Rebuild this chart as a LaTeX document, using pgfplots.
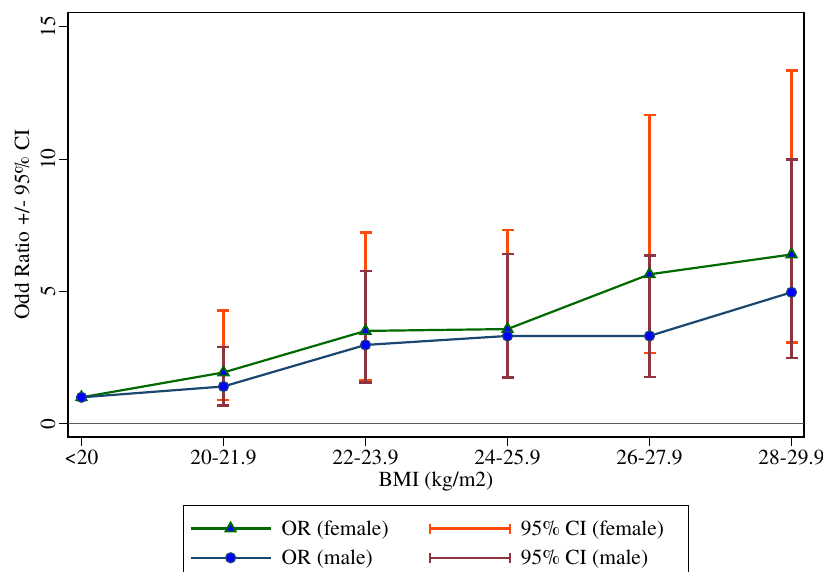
\documentclass[border=0pt]{standalone}
\usepackage{fontspec}
\setmainfont{texgyretermes}[Extension=.otf, UprightFont=*-regular, BoldFont=*-bold, ItalicFont=*-italic, BoldItalicFont=*-bolditalic]
\usepackage{pgfplots}
\pgfplotsset{compat=1.18}
\usepackage{pgfplotstable}
\definecolor{fgreen}{RGB}{0,105,0}
\definecolor{mnavy}{RGB}{26,71,111}
\definecolor{cifem}{RGB}{255,75,10}
\definecolor{cimale}{RGB}{142,52,62}
\definecolor{mblue}{RGB}{0,0,255}
\definecolor{zline}{RGB}{90,90,90}

\pgfplotstableread{
x or
0 1.00
1 1.94
2 3.51
3 3.58
4 5.65
5 6.40
}\femaleor
\pgfplotstableread{
x or
0 1.00
1 1.41
2 2.98
3 3.32
4 3.32
5 4.97
}\maleor
\pgfplotstableread{
x lo hi
1 0.91 4.28
2 1.66 7.23
3 1.75 7.33
4 2.69 11.67
5 3.07 13.35
}\femaleci
\pgfplotstableread{
x lo hi
1 0.69 2.90
2 1.56 5.78
3 1.75 6.41
4 1.76 6.36
5 2.49 9.99
}\maleci

\pgfplotsset{
  cibar/.style={only marks, mark=text, text mark={}, color=#1, line width=2.2bp,
    error bars/y dir=both, error bars/y explicit,
    error bars/error bar style={color=#1, line width=2.2bp},
    error bars/error mark=|,
    error bars/error mark options={color=#1, line width=2.2bp, mark size=6bp}},
}

\begin{document}
\begin{tikzpicture}[font=\fontsize{21.5}{25}\selectfont]
\begin{axis}[
  at={(68bp,135bp)}, anchor=south west,
  scale only axis, width=736bp, height=424.6bp,
  xmin=-0.095, xmax=5.088, ymin=-0.5, ymax=15.55,
  xtick={0,1,2,3,4,5},
  xticklabels={<20,20-21.9,22-23.9,24-25.9,26-27.9,28-29.9},
  ytick={0,5,10,15},
  yticklabels={0,5,10,15},
  xtick pos=bottom, ytick pos=left,
  tick align=outside, major tick length=9bp,
  tick style={black, line width=1bp},
  axis line style={black, line width=1.2bp},
  yticklabel style={rotate=90, anchor=south},
  xlabel={BMI (kg/m2)},
  ylabel={Odd Ratio +/- 95\% CI},
  xlabel style={at={(axis description cs:0.5,-0.106)}, anchor=center},
  ylabel style={at={(axis description cs:-0.0625,0.5)}, anchor=center},
  legend columns=2,
  legend cell align=left,
  legend style={at={(axis description cs:0.1563,-0.160)}, anchor=north west,
    draw=black, line width=1bp, inner xsep=6bp, inner ysep=13bp,
    row sep=9bp,
    /tikz/every odd column/.append style={column sep=8bp},
    /tikz/every even column/.append style={column sep=38bp},
    nodes={inner sep=2bp}},
]
\addplot[zline, line width=0.9bp, forget plot] coordinates {(-0.095,0) (5.088,0)};

\addplot[fgreen, line width=2.2bp, mark=triangle*, mark size=6bp,
  mark options={fill=mblue, draw=fgreen, line width=1.8bp},
  legend image code/.code={
    \draw[draw=fgreen, line width=2.2bp] (0bp,0bp) -- (40bp,0bp) -- (80bp,0bp);
    \draw[fill=mblue, draw=fgreen, line width=1.8bp] plot[mark=triangle*, mark size=6bp] coordinates {(40bp,0bp)};
  }]
  table[x=x, y=or] {\femaleor};
\addlegendentry{OR (female)}

% 95% CI (female)
\addplot[cibar=cifem,
  legend image code/.code={
    \draw[draw=cifem, line width=2.2bp] (0bp,-5bp) -- (0bp,0bp) -- (80bp,0bp) -- (80bp,5bp);
    \draw[draw=cifem, line width=2.2bp] (0bp,5bp) -- (0bp,0bp);
    \draw[draw=cifem, line width=2.2bp] (80bp,-5bp) -- (80bp,0bp);
  }]
  table[x=x, y expr={(\thisrow{lo}+\thisrow{hi})/2},
        y error expr={(\thisrow{hi}-\thisrow{lo})/2}] {\femaleci};
\addlegendentry{95\% CI (female)\rule{16bp}{0pt}}

\addplot[mnavy, line width=2.2bp, mark=*, mark size=5bp,
  mark options={fill=mblue, draw=mnavy, line width=1.2bp},
  legend image code/.code={
    \draw[draw=mnavy, line width=2.2bp] (0bp,0bp) -- (40bp,0bp) -- (80bp,0bp);
    \draw[fill=mblue, draw=mnavy, line width=1.2bp] plot[mark=*, mark size=5bp] coordinates {(40bp,0bp)};
  }]
  table[x=x, y=or] {\maleor};
\addlegendentry{OR (male)}

% 95% CI (male)
\addplot[cibar=cimale,
  legend image code/.code={
    \draw[draw=cimale, line width=2.2bp] (0bp,-5bp) -- (0bp,0bp) -- (80bp,0bp) -- (80bp,5bp);
    \draw[draw=cimale, line width=2.2bp] (0bp,5bp) -- (0bp,0bp);
    \draw[draw=cimale, line width=2.2bp] (80bp,-5bp) -- (80bp,0bp);
  }]
  table[x=x, y expr={(\thisrow{lo}+\thisrow{hi})/2},
        y error expr={(\thisrow{hi}-\thisrow{lo})/2}] {\maleci};
\addlegendentry{95\% CI (male)}
\end{axis}
\pgfresetboundingbox
\useasboundingbox (0,0) rectangle (823bp,572bp);
\end{tikzpicture}
\end{document}
